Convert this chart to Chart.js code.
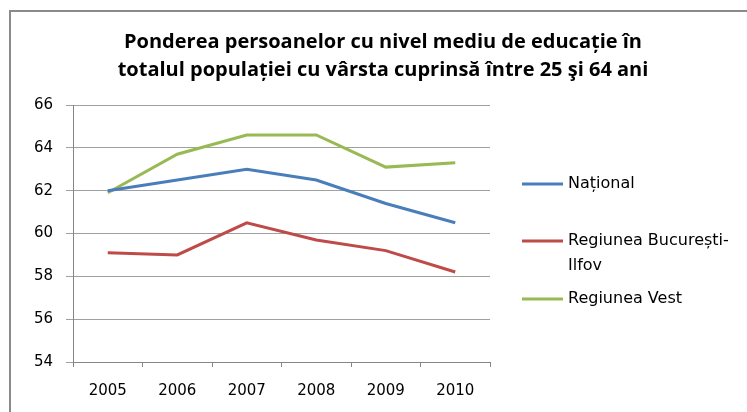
<!DOCTYPE html>
<html>
<head>
<meta charset="utf-8">
<script src="https://cdn.jsdelivr.net/npm/chart.js@4/dist/chart.umd.min.js"></script>
<style>
html,body{margin:0;padding:0;background:#fff;}
#wrap{width:747px;height:412px;position:relative;}
</style>
</head>
<body>
<div id="wrap"><canvas id="c" width="747" height="412"></canvas></div>
<script>
const years = ['2005', '2006', '2007', '2008', '2009', '2010'];
const seriesNames = ['Național', 'Regiunea București-Ilfov', 'Regiunea Vest'];
const national = [62.0, 62.5, 63.0, 62.5, 61.4, 60.5];
const bucurestiIlfov = [59.1, 59.0, 60.5, 59.7, 59.2, 58.2];
const vest = [61.9, 63.7, 64.6, 64.6, 63.1, 63.3];
const titleLines = ['Ponderea persoanelor cu nivel mediu de educație în', 'totalul populației cu vârsta cuprinsă între 25 şi 64 ani'];
const yMin = 54, yMax = 66, yStep = 2;

const colors = ['#4A7EBB', '#BE4B48', '#98B954'];
const tickFont = {family: 'DejaVu Sans', size: 15};

const framePlugin = {
  id: 'frame',
  beforeDraw(chart) {
    const ctx = chart.ctx;
    ctx.save();
    ctx.fillStyle = '#fff';
    ctx.fillRect(0, 0, chart.width, chart.height);
    ctx.strokeStyle = '#8a8a8a';
    ctx.lineWidth = 2;
    ctx.strokeRect(10, 11, 900, 600);
    ctx.restore();
  }
};

const sideLegend = {
  id: 'sideLegend',
  afterDraw(chart, args, opts) {
    const ctx = chart.ctx;
    ctx.save();
    ctx.font = opts.fontSize + 'px ' + opts.fontFamily;
    ctx.textBaseline = 'middle';
    ctx.textAlign = 'left';
    chart.data.datasets.forEach((ds, i) => {
      const y = opts.ys[i];
      ctx.strokeStyle = ds.borderColor;
      ctx.lineWidth = 3;
      ctx.beginPath();
      ctx.moveTo(opts.x, y);
      ctx.lineTo(opts.x + opts.lineLen, y);
      ctx.stroke();
      const tx = opts.x + opts.lineLen + opts.gap;
      let lines = [ds.label];
      if (ctx.measureText(ds.label).width > opts.maxWidth) {
        const idx = ds.label.lastIndexOf('-');
        if (idx > 0) lines = [ds.label.slice(0, idx + 1), ds.label.slice(idx + 1)];
      }
      ctx.fillStyle = '#000';
      lines.forEach((ln, k) => ctx.fillText(ln, tx, y + k * opts.lineHeight));
    });
    ctx.restore();
  }
};

new Chart(document.getElementById('c'), {
  type: 'line',
  data: {
    labels: years,
    datasets: [
      {label: seriesNames[0], data: national},
      {label: seriesNames[1], data: bucurestiIlfov},
      {label: seriesNames[2], data: vest}
    ].map((d, i) => Object.assign(d, {
      borderColor: colors[i], backgroundColor: colors[i], borderWidth: 3,
      pointRadius: 0, tension: 0, fill: false, yAxisID: 'y'
    }))
  },
  options: {
    responsive: false,
    animation: false,
    devicePixelRatio: 1,
    layout: {padding: {left: 19, right: 0, top: 28, bottom: 0}},
    plugins: {
      legend: {display: false},
      tooltip: {enabled: false},
      title: {
        display: true,
        text: titleLines,
        color: '#000',
        font: {family: 'Open Sans', size: 20, weight: 'bold', lineHeight: 1.4},
        padding: {top: 0, bottom: 21}
      },
      sideLegend: {x: 522, lineLen: 41, gap: 5, ys: [184, 241, 299], lineHeight: 24.5,
        fontSize: 16, fontFamily: 'DejaVu Sans', maxWidth: 172}
    },
    scales: {
      x: {
        offset: true,
        grid: {display: true, drawOnChartArea: false, drawTicks: true, tickLength: 5, offset: true, color: '#868686'},
        border: {display: true, color: '#868686', width: 1},
        ticks: {color: '#000', font: tickFont, padding: 15, maxRotation: 0},
        afterFit(s) { s.height = 50; }
      },
      y: {
        min: yMin, max: yMax,
        grid: {color: '#a0a0a0', tickLength: 7, drawTicks: true},
        border: {display: true, color: '#868686', width: 1},
        ticks: {stepSize: yStep, color: '#000', font: tickFont, padding: 13},
        afterFit(s) { s.width = 54; }
      },
      yr: {
        position: 'right',
        display: true,
        grid: {display: false, drawTicks: false},
        border: {display: false},
        ticks: {display: false},
        afterFit(s) { s.width = 257; }
      }
    }
  },
  plugins: [framePlugin, sideLegend]
});
</script>
</body>
</html>
